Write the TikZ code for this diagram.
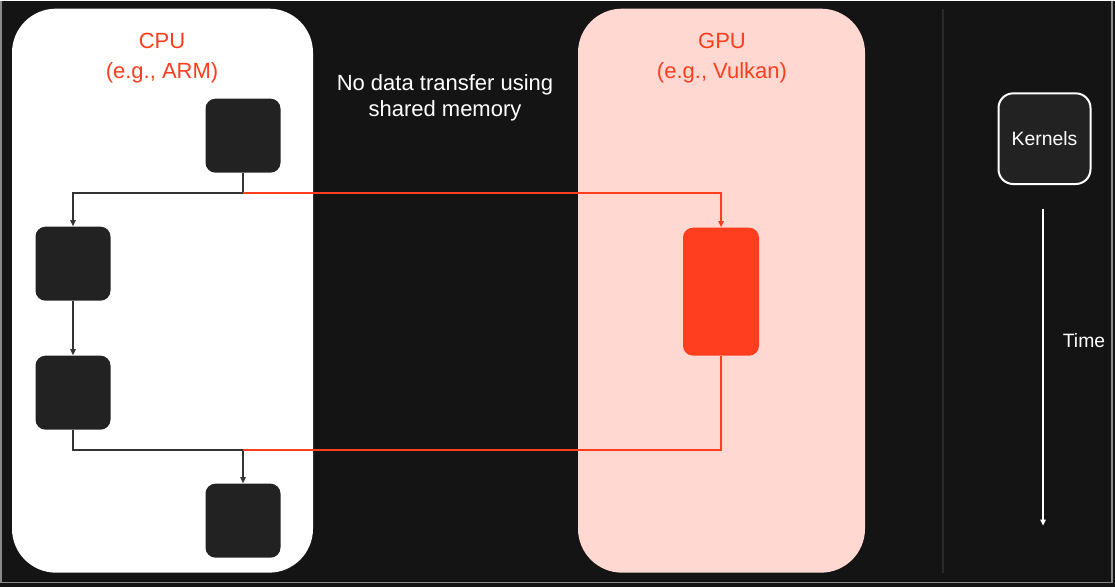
\documentclass[tikz,border=0pt]{standalone}
\usepackage{fontspec}
\setmainfont{Liberation Sans}
\usetikzlibrary{arrows.meta}

\definecolor{bgdark}{HTML}{141414}
\definecolor{framegrey}{HTML}{8A8A8A}
\definecolor{sepgrey}{HTML}{2A2A2A}
\definecolor{gpupink}{HTML}{FFD9D1}
\definecolor{gpured}{HTML}{FF3D1F}
\definecolor{boxdark}{HTML}{222222}
\definecolor{linedark}{HTML}{333333}

\tikzset{every picture/.style={line width=0.75pt}}

\begin{document}
\begin{tikzpicture}[x=0.75pt,y=0.75pt,yscale=-1,xscale=1,
  cpubox/.style={fill=boxdark, rounded corners=7.5pt, minimum width=56.25pt, minimum height=55.5pt, inner sep=0pt},
  gpubox/.style={fill=gpured, rounded corners=7.5pt, minimum width=57pt, minimum height=96pt, inner sep=0pt},
  cpuline/.style={draw=linedark, line width=1.5pt},
  gpuline/.style={draw=gpured, line width=1.5pt},
  tip/.style={-{Triangle[length=4.5pt,width=4pt]}},
  title/.style={text=gpured, font=\fontsize{16.5}{22.5}\selectfont, align=center}]
\path (0,0) rectangle (1115,586); %set diagram to 1115 by 586

%Shape: Background
\fill[bgdark] (0,0) rectangle (1115,586);
%Straight Lines (frame)
\draw[framegrey, line width=1pt] (1,0) -- (1,582) -- (1112,582) -- (1112,0);

%Shape: Rounded Rectangle (CPU panel)
\fill[white, rounded corners=33pt] (12,8) rectangle (313,572);
%Shape: Rounded Rectangle (GPU panel)
\fill[gpupink, rounded corners=33pt] (578,8) rectangle (865,572);

%Straight Lines (separator)
\draw[sepgrey, line width=1.5pt] (943,8) -- (943,572);

% Text Node
\node[title] (cputitle) at (162,57) {CPU\\(e.g., ARM)};
% Text Node
\node[title] (gputitle) at (722,57) {GPU\\(e.g., Vulkan)};
% Text Node
\node[text=white, font=\fontsize{16.5}{19.5}\selectfont, align=center] (nocopy) at (445,97) {No data transfer using\\shared memory};

%Shape: Kernels on CPU
\node[cpubox] (opa) at (243,135) {};
\node[cpubox] (opb) at (73,263) {};
\node[cpubox] (opc) at (73,392) {};
\node[cpubox] (opd) at (243,520) {};
%Shape: Kernel on GPU
\node[gpubox] (opg) at (721,291) {};

\coordinate (fork) at (243,192);
\coordinate (merge) at (243,449);

%Straight Lines
\draw[cpuline] (opa) -- (fork);
\draw[cpuline, tip] (fork) -| (opb);
\draw[cpuline, tip] (opb) -- (opc);
\draw[cpuline] (opc) |- (merge);
\draw[cpuline, tip] (merge) -- (opd);
\draw[gpuline, tip] (fork) -| (opg);
\draw[gpuline] (opg) |- (merge);

%Shape: Legend
\node[draw=white, fill=boxdark, line width=1.5pt, rounded corners=11pt, minimum width=69pt, minimum height=68pt, inner sep=0pt, text=white, font=\fontsize{14.5}{17}\selectfont] (legend) at (1044.5,138) {Kernels};
\coordinate (tstart) at (1043,208);
\coordinate (tend) at (1043,525);
\draw[white, line width=1.5pt, tip] (tstart) -- (tend);
% Text Node
\node[text=white, font=\fontsize{14.5}{17}\selectfont] (timelbl) at (1084,340) {Time};

\end{tikzpicture}
\end{document}
